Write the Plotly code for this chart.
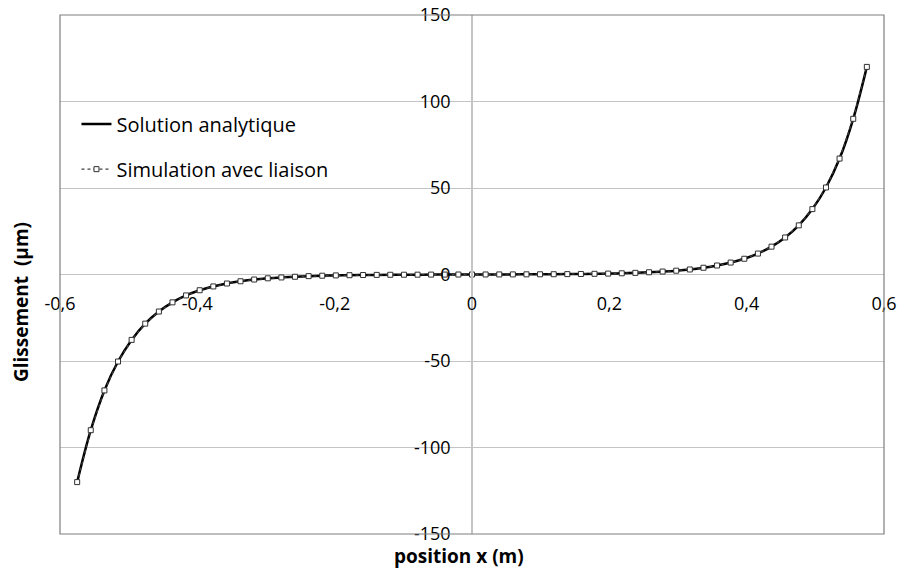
import plotly.graph_objects as go

# Data
x_pos = [-0.5750, -0.5552, -0.5353, -0.5155, -0.4957, -0.4759, -0.4560, -0.4362, -0.4164, -0.3966,
         -0.3767, -0.3569, -0.3371, -0.3172, -0.2974, -0.2776, -0.2578, -0.2379, -0.2181, -0.1983,
         -0.1784, -0.1586, -0.1388, -0.1190, -0.0991, -0.0793, -0.0595, -0.0397, -0.0198, 0.0,
         0.0198, 0.0397, 0.0595, 0.0793, 0.0991, 0.1190, 0.1388, 0.1586, 0.1784, 0.1983,
         0.2181, 0.2379, 0.2578, 0.2776, 0.2974, 0.3172, 0.3371, 0.3569, 0.3767, 0.3966,
         0.4164, 0.4362, 0.4560, 0.4759, 0.4957, 0.5155, 0.5353, 0.5552, 0.5750]

glissement = [-120, -90, -67, -50.3, -37.8, -28.4, -21.4, -16.1, -12.1, -9.1,
              -6.9, -5.2, -3.9, -2.9, -2.2, -1.7, -1.3, -0.95, -0.7, -0.53,
              -0.4, -0.3, -0.22, -0.16, -0.12, -0.09, -0.06, -0.04, -0.02, 0.0,
              0.02, 0.04, 0.06, 0.09, 0.12, 0.16, 0.22, 0.3, 0.4, 0.53,
              0.7, 0.95, 1.3, 1.7, 2.2, 2.9, 3.9, 5.2, 6.9, 9.1,
              12.1, 16.1, 21.4, 28.4, 37.8, 50.3, 67, 90, 120]

x_ticks = [-0.6, -0.4, -0.2, 0, 0.2, 0.4, 0.6]
x_ticktext = ["-0,6", "-0,4", "-0,2", "0", "0,2", "0,4", "0,6"]
y_ticks = [-150, -100, -50, 0, 50, 100, 150]
y_ticktext = ["-150", "-100", "-50", "0", "50", "100", "150"]

FONT = "Open Sans"
TICK_SIZE = 18
LEG_SIZE = 20
TITLE_SIZE = 19

fig = go.Figure()
fig.add_trace(go.Scatter(
    x=x_pos, y=glissement, mode="lines", name="Solution analytique",
    line=dict(color="black", width=2.5, shape="spline"),
    legend="legend", showlegend=True,
))
fig.add_trace(go.Scatter(
    x=x_pos, y=glissement, mode="lines+markers", name="Simulation avec liaison",
    line=dict(color="#404040", width=1.2, dash="dot"),
    marker=dict(symbol="square", size=5, color="white", line=dict(color="#303030", width=1)),
    legend="legend2", showlegend=True,
))

fig.update_layout(
    width=900, height=573,
    showlegend=True,
    margin=dict(l=60, r=16, t=15, b=39, autoexpand=False),
    paper_bgcolor="white", plot_bgcolor="white",
    font=dict(family=FONT, size=16, color="black"),
    xaxis=dict(range=[-0.6, 0.6], tickvals=x_ticks, ticktext=x_ticktext,
               showgrid=False, zeroline=False,
               showline=False, anchor="free", position=0.5,
               ticks="outside", ticklen=13, tickcolor="rgba(0,0,0,0)",
               ticklabeloverflow="allow",
               tickfont=dict(family=FONT, size=TICK_SIZE, color="black")),
    yaxis=dict(range=[-150, 150], tickvals=y_ticks, ticktext=y_ticktext,
               showgrid=True, gridcolor="#c4c4c4", gridwidth=1, zeroline=False,
               showline=True, linecolor="#c4c4c4", linewidth=1.5,
               anchor="free", position=0.5,
               ticks="outside", ticklen=17, tickcolor="rgba(0,0,0,0)",
               ticklabeloverflow="allow",
               tickfont=dict(family=FONT, size=TICK_SIZE, color="black")),
    legend=dict(x=0.02, y=0.790, xanchor="left", yanchor="middle",
                bgcolor="rgba(0,0,0,0)", font=dict(family=FONT, size=LEG_SIZE, color="black")),
    legend2=dict(x=0.02, y=0.703, xanchor="left", yanchor="middle",
                 bgcolor="rgba(0,0,0,0)", font=dict(family=FONT, size=LEG_SIZE, color="black")),
    shapes=[dict(type="rect", xref="paper", yref="paper", x0=0, x1=1, y0=0, y1=1,
                 line=dict(color="#7f7f7f", width=1.2), layer="above")],
    annotations=[
        dict(text="<b>Glissement  (µm)</b>", xref="paper", yref="paper",
             x=-0.0473, y=0.447, xanchor="center", yanchor="middle",
             textangle=-90, showarrow=False, font=dict(family=FONT, size=TITLE_SIZE, color="black")),
        dict(text="<b>position x (m)</b>", xref="paper", yref="paper",
             x=0.484, y=-0.043, xanchor="center", yanchor="middle",
             showarrow=False, font=dict(family=FONT, size=TITLE_SIZE, color="black")),
    ],
)

# remove the default 8px page margin so the figure sits at the window origin
fig.write_html("out.html", post_script="document.body.style.margin='0px';",
               config={"displayModeBar": False})
